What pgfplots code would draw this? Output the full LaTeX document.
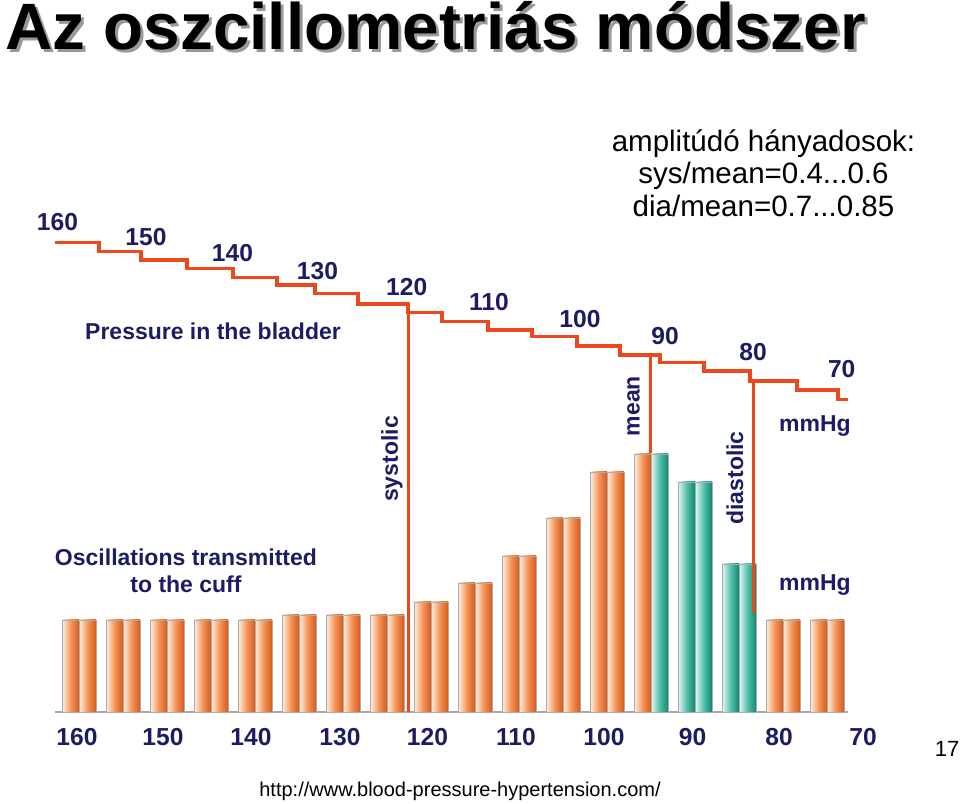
\documentclass[border=0pt]{standalone}
\usepackage{pgfplots}
\pgfplotsset{compat=1.18}
\usepackage{fontspec}
\setmainfont{Liberation Sans}
\definecolor{navy}{RGB}{28,28,100}
\definecolor{lineRed}{RGB}{235,72,28}
\definecolor{oL}{RGB}{255,240,226}
\definecolor{oM}{RGB}{246,150,90}
\definecolor{oD}{RGB}{215,88,25}
\definecolor{tL}{RGB}{228,247,243}
\definecolor{tM}{RGB}{85,192,172}
\definecolor{tD}{RGB}{15,135,112}
\newcommand{\fs}[1]{\fontsize{#1}{1.2\dimexpr#1\relax}\selectfont}
\pgfplotsset{
  obar/.style={ybar, bar width=17, draw=gray!65, line width=0.3pt,
    left color=oL, right color=oD, middle color=oM},
  tbar/.style={ybar, bar width=17, draw=gray!65, line width=0.3pt,
    left color=tL, right color=tD, middle color=tM},
}
% one bar: style, shift, x, height
\newcommand{\bbar}[4]{\addplot[#1, bar shift=#2] coordinates {(#3,#4)};}
\begin{document}
\begin{tikzpicture}
\begin{axis}[
  width=480pt, height=402pt, scale only axis,
  xmin=0, xmax=960, ymin=-92, ymax=712,
  hide axis, clip=false,
]
\addplot[draw=none] coordinates {(0,-92) (960,712)};
% baseline
\addplot[draw=gray!70, line width=1.3pt] coordinates {(55,0) (848,0)};
% bar pairs (left, right)
\bbar{obar}{-8.5}{79}{92}   \bbar{obar}{8.5}{79}{92}
\bbar{obar}{-8.5}{123}{92}  \bbar{obar}{8.5}{123}{92}
\bbar{obar}{-8.5}{167}{92}  \bbar{obar}{8.5}{167}{92}
\bbar{obar}{-8.5}{211}{92}  \bbar{obar}{8.5}{211}{92}
\bbar{obar}{-8.5}{255}{92}  \bbar{obar}{8.5}{255}{92}
\bbar{obar}{-8.5}{299}{97}  \bbar{obar}{8.5}{299}{97}
\bbar{obar}{-8.5}{343}{97}  \bbar{obar}{8.5}{343}{97}
\bbar{obar}{-8.5}{387}{97}  \bbar{obar}{8.5}{387}{97}
\bbar{obar}{-8.5}{431}{110} \bbar{obar}{8.5}{431}{110}
\bbar{obar}{-8.5}{475}{129} \bbar{obar}{8.5}{475}{129}
\bbar{obar}{-8.5}{519}{156} \bbar{obar}{8.5}{519}{156}
\bbar{obar}{-8.5}{563}{194} \bbar{obar}{8.5}{563}{194}
\bbar{obar}{-8.5}{607}{240} \bbar{obar}{8.5}{607}{240}
\bbar{obar}{-8.5}{651}{258} \bbar{tbar}{8.5}{651}{258}
\bbar{tbar}{-8.5}{695}{230} \bbar{tbar}{8.5}{695}{230}
\bbar{tbar}{-8.5}{739}{148} \bbar{tbar}{8.5}{739}{148}
\bbar{obar}{-8.5}{783}{92}  \bbar{obar}{8.5}{783}{92}
\bbar{obar}{-8.5}{827}{92}  \bbar{obar}{8.5}{827}{92}
% pressure staircase
\addplot[const plot, color=lineRed, line width=1.6pt] coordinates {
(55,469.3) (99,460.3) (141,452) (187,443.7) (233,434.7) (277,427) (315,418.7)
(358,408) (408,399.3) (442,390.3) (488,382) (532,375.3) (577,366) (620,357)
(660,349.3) (704,341) (750,331) (797,322) (838,312.7) (848,312.7)};
% systolic, mean, diastolic lines
\addplot[color=lineRed, line width=1.5pt] coordinates {(408,408) (408,0)};
\addplot[color=lineRed, line width=1.5pt] coordinates {(650,357) (650,259)};
\addplot[color=lineRed, line width=1.5pt] coordinates {(753,331) (753,99)};

\begin{scope}[every node/.style={inner sep=0pt, text=navy, font=\fs{12.3pt}\bfseries}]
\node at (axis cs:57.5,490.3) {160};
\node at (axis cs:146,475.3) {150};
\node at (axis cs:232.5,459) {140};
\node at (axis cs:317.5,441) {130};
\node at (axis cs:406.7,425) {120};
\node at (axis cs:489,409.5) {110};
\node at (axis cs:580,393) {100};
\node at (axis cs:665,376) {90};
\node at (axis cs:753,359.5) {80};
\node at (axis cs:841.7,343) {70};
\node at (axis cs:77,-25.5) {160};
\node at (axis cs:163,-25.5) {150};
\node at (axis cs:251,-25.5) {140};
\node at (axis cs:340,-25.5) {130};
\node at (axis cs:427.5,-25.5) {120};
\node at (axis cs:516,-25.5) {110};
\node at (axis cs:604,-25.5) {100};
\node at (axis cs:692.5,-25.5) {90};
\node at (axis cs:779,-25.5) {80};
\node at (axis cs:863,-25.5) {70};
\end{scope}
\begin{scope}[every node/.style={inner sep=0pt, text=navy, font=\fs{11.5pt}\bfseries}]
\node[anchor=base] at (axis cs:815,280) {mmHg};
\node[anchor=base] at (axis cs:815,121) {mmHg};
\node[anchor=base] at (axis cs:213,372) {Pressure in the bladder};
\node[anchor=base] at (axis cs:186,146) {Oscillations transmitted};
\node[anchor=base] at (axis cs:186,119) {to the cuff};
\node[rotate=90] at (axis cs:392,253) {systolic};
\node[rotate=90] at (axis cs:633.5,306) {mean};
\node[rotate=90] at (axis cs:735,234) {diastolic};
\end{scope}
\begin{scope}[every node/.style={inner sep=0pt, text=black, font=\fs{14.75pt}}]
\node[anchor=base] at (axis cs:763.5,560) {amplitúdó hányadosok:};
\node[anchor=base] at (axis cs:763.5,528) {sys/mean=0.4...0.6};
\node[anchor=base] at (axis cs:763.5,495) {dia/mean=0.7...0.85};
\end{scope}
\node[anchor=base west, inner sep=0pt, text=black!40, font=\fs{32.8pt}\bfseries] at (axis cs:8,659) {Az oszcillometriás módszer};
\node[anchor=base west, inner sep=0pt, text=black, font=\fs{32.8pt}\bfseries] at (axis cs:5,662) {Az oszcillometriás módszer};
\node[anchor=base, inner sep=0pt, font=\fs{11pt}] at (axis cs:947,-45) {17};
\node[anchor=base, inner sep=0pt, font=\fs{10pt}] at (axis cs:460,-85) {http://www.blood-pressure-hypertension.com/};
\end{axis}
\end{tikzpicture}
\end{document}
